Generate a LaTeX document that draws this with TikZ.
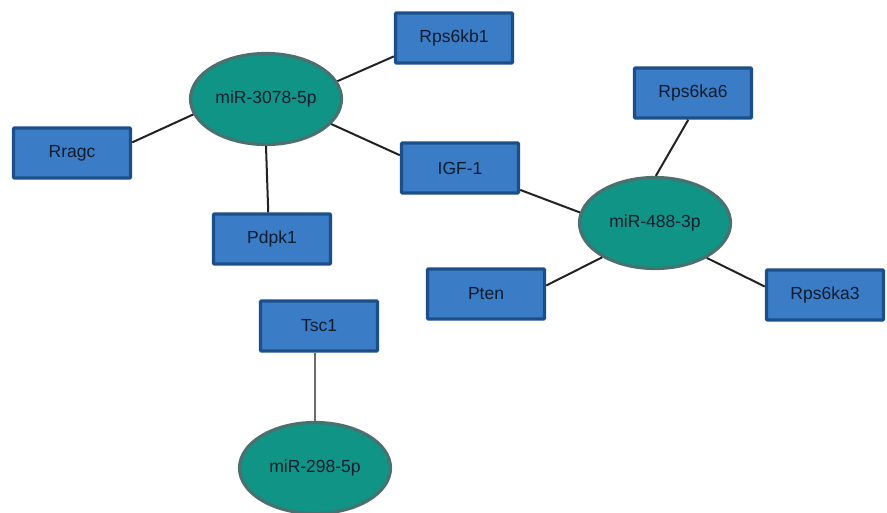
\documentclass[tikz,border=0pt]{standalone}
\usepackage{fontspec}
\setmainfont{Liberation Sans}
\usetikzlibrary{shapes.geometric}
\definecolor{boxfill}{HTML}{3A7CC5}
\definecolor{boxline}{HTML}{1C4F8A}
\definecolor{ellfill}{HTML}{0F9486}
\definecolor{ellline}{HTML}{4A716F}
\definecolor{txt}{HTML}{0F1C2E}
\definecolor{edge}{HTML}{222222}
\begin{document}
\begin{tikzpicture}[x=1pt,y=-1pt,
  gene/.style={draw=boxline,fill=boxfill,line width=3.4pt,rectangle,rounded corners=1pt,
    minimum width=117pt,minimum height=50pt,inner sep=0pt,text=txt,font=\fontsize{17.5}{19}\selectfont},
  mirna/.style={draw=ellline,fill=ellfill,line width=3.2pt,ellipse,
    minimum width=151pt,minimum height=91pt,inner sep=0pt,text=txt,font=\fontsize{17.5}{19}\selectfont},
  link/.style={draw=edge,line width=2pt},
  glink/.style={draw=gray!85!black,line width=2pt}]
\useasboundingbox (0,0) rectangle (887,512);
\node[mirna] (m1) at (266,99) {miR-3078-5p};
\node[mirna] (m2) at (655,223) {miR-488-3p};
\node[mirna] (m3) at (315,468) {miR-298-5p};
\node[gene] (rps6kb1) at (454,38) {Rps6kb1};
\node[gene] (rragc) at (72,153) {Rragc};
\node[gene] (igf) at (460,168) {IGF-1};
\node[gene] (pdpk1) at (272,239) {Pdpk1};
\node[gene] (rps6ka6) at (693,93) {Rps6ka6};
\node[gene] (pten) at (486,294) {Pten};
\node[gene] (rps6ka3) at (825,295) {Rps6ka3};
\node[gene] (tsc1) at (319,326) {Tsc1};
\draw[link] (m1.14) -- (rps6kb1.197);
\draw[link] (m1.192) -- (rragc.10);
\draw[link] (m1.270) -- (pdpk1.98);
\draw[link] (m1.339) -- (igf.168);
\draw[link] (igf.340) -- (m2.172);
\draw[link] (rps6ka6.260) -- (m2.89);
\draw[link] (m2.326) -- (rps6ka3.172);
\draw[link] (pten.8) -- (m2.213);
\draw[glink] (m3.north |- tsc1.south) -- (m3.north);
\end{tikzpicture}
\end{document}
